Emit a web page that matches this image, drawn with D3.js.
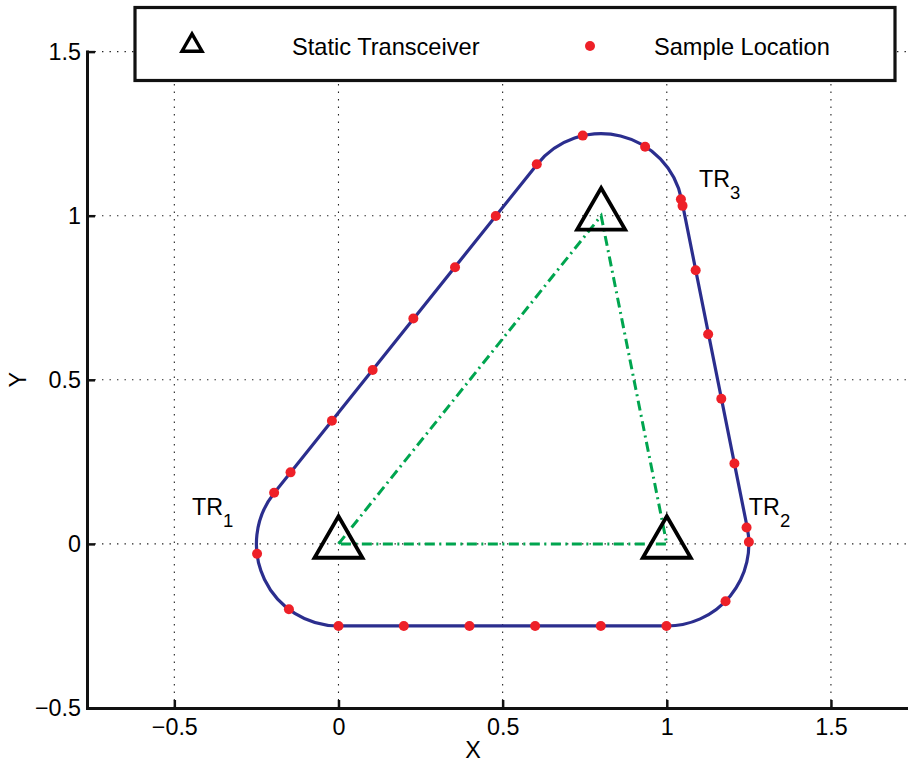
<!DOCTYPE html>
<html><head><meta charset="utf-8">
<script src="https://cdn.jsdelivr.net/npm/d3@7"></script>
<style>
body{margin:0;background:#fff}
svg{display:block}
text{font-family:"Liberation Sans",Arial,Helvetica,sans-serif;fill:#000}
</style>
</head><body>
<svg id="chart" width="908" height="763"></svg>
<script>
// ---- data ----
const transceiverX = [0, 1, 0.8];
const transceiverY = [0, 0, 1];
const offsetRadius = 0.25;
const sampleX = [-0.248, -0.151, 0.000, 0.199, 0.399, 0.599, 0.799, 0.999, 1.179, 1.250, 1.243,
                 1.206, 1.166, 1.126, 1.088, 1.048, 1.043, 0.934, 0.744, 0.604, 0.479, 0.355,
                 0.228, 0.104, -0.020, -0.146, -0.196];
const sampleY = [-0.030, -0.199, -0.250, -0.250, -0.250, -0.250, -0.250, -0.250, -0.175, 0.006, 0.050,
                 0.245, 0.442, 0.639, 0.834, 1.030, 1.050, 1.210, 1.244, 1.157, 0.999, 0.843,
                 0.687, 0.530, 0.375, 0.218, 0.156];
const xTicks = [-0.5, 0, 0.5, 1, 1.5];
const yTicks = [-0.5, 0, 0.5, 1, 1.5];
const labelBase = ["TR", "TR", "TR"];
const labelSub = ["1", "2", "3"];
const labelX = [-0.446, 1.250, 1.098];
const labelY = [0.088, 0.088, 1.087];
const legendLabels = ["Static Transceiver", "Sample Location"];

// ---- setup ----
const svg = d3.select("#chart");
const x = d3.scaleLinear().domain([-0.766, 1.7335]).range([87, 907.6]);
const y = d3.scaleLinear().domain([-0.5, 1.5]).range([708, 51.6]);
const fmt = d => d < 0 ? "\u2212" + Math.abs(d) : String(d);

// grid
const grid = svg.append("g").attr("stroke", "#222").attr("stroke-width", 1.1)
  .attr("stroke-dasharray", "1.4,6.1").attr("fill", "none");
grid.selectAll(".gx").data(xTicks).join("line")
  .attr("x1", d => x(d)).attr("x2", d => x(d))
  .attr("y1", y(-0.5)).attr("y2", y(1.5));
grid.selectAll(".gy").data(yTicks).join("line")
  .attr("y1", d => y(d)).attr("y2", d => y(d))
  .attr("x1", x.range()[0]).attr("x2", x.range()[1]);

// green triangle (dash-dot)
const V = transceiverX.map((d, i) => [d, transceiverY[i]]);
svg.append("path")
  .attr("d", d3.line().x(d => x(d[0])).y(d => y(d[1]))([V[0], V[2], V[1], V[0]]))
  .attr("fill", "none").attr("stroke", "#00a54f").attr("stroke-width", 3)
  .attr("stroke-dasharray", "10,4.5,2,4.5");

// blue offset boundary
const n = V.length;
const normals = V.map((p, i) => {
  const q = V[(i + 1) % n];
  const dx = q[0] - p[0], dy = q[1] - p[1], L = Math.hypot(dx, dy);
  return [dy / L, -dx / L];
});
const rpx = x(offsetRadius) - x(0);
const p = d3.path();
for (let i = 0; i < n; i++) {
  const a = V[i], b = V[(i + 1) % n], nm = normals[i], nn = normals[(i + 1) % n];
  if (i === 0) p.moveTo(x(a[0] + offsetRadius * nm[0]), y(a[1] + offsetRadius * nm[1]));
  p.lineTo(x(b[0] + offsetRadius * nm[0]), y(b[1] + offsetRadius * nm[1]));
  const a0 = -Math.atan2(nm[1], nm[0]), a1 = -Math.atan2(nn[1], nn[0]);
  p.arc(x(b[0]), y(b[1]), rpx, a0, a1, true);
}
p.closePath();
svg.append("path").attr("d", p.toString())
  .attr("fill", "none").attr("stroke", "#2b2e8e").attr("stroke-width", 3.2);

// sample points
svg.append("g").selectAll("circle").data(sampleX).join("circle")
  .attr("cx", d => x(d)).attr("cy", (d, i) => y(sampleY[i]))
  .attr("r", 5).attr("fill", "#ee2028");

// transceiver triangles
const triBig = d3.symbol().type(d3.symbolTriangle).size(Math.sqrt(3) / 4 * 48 * 48);
svg.append("g").selectAll("path").data(V).join("path")
  .attr("d", triBig)
  .attr("transform", d => `translate(${x(d[0])},${y(d[1])})`)
  .attr("fill", "none").attr("stroke", "#000").attr("stroke-width", 3.8)
  .attr("stroke-linejoin", "miter");

// axes
const xAxis = svg.append("g").attr("transform", `translate(0,${y(-0.5)})`)
  .call(d3.axisBottom(x).tickValues(xTicks).tickFormat(fmt).tickSizeInner(-8).tickSizeOuter(0).tickPadding(10));
const yAxis = svg.append("g").attr("transform", `translate(${x.range()[0]},0)`)
  .call(d3.axisLeft(y).tickValues(yTicks).tickFormat(fmt).tickSizeInner(-8).tickSizeOuter(0).tickPadding(6));
[xAxis, yAxis].forEach(g => {
  g.select(".domain").attr("stroke", "#111").attr("stroke-width", 3).attr("stroke-linecap", "square");
  g.selectAll(".tick line").attr("stroke", "#111").attr("stroke-width", 2.5);
  g.selectAll(".tick text").attr("font-size", 23.3).attr("font-family", "Liberation Sans, Arial, sans-serif").attr("fill", "#000");
});

// axis labels
svg.append("text").attr("x", x(0.41)).attr("y", 758).attr("text-anchor", "middle")
  .attr("font-size", 23.3).text("X");
svg.append("text").attr("transform", `translate(26,${y(0.5)}) rotate(-90)`)
  .attr("text-anchor", "middle").attr("font-size", 23.3).text("Y");

// TR labels
labelBase.forEach((b, i) => {
  const t = svg.append("text").attr("x", x(labelX[i])).attr("y", y(labelY[i])).attr("font-size", 23.3);
  t.append("tspan").text(b);
  t.append("tspan").attr("dy", 12).attr("font-size", 18.5).text(labelSub[i]);
});

// legend
const lg = svg.append("g");
lg.append("rect").attr("x", 135).attr("y", 7.5).attr("width", 760).attr("height", 73)
  .attr("fill", "#fff").attr("stroke", "#111").attr("stroke-width", 3.2);
lg.append("path").attr("d", d3.symbol().type(d3.symbolTriangle).size(Math.sqrt(3) / 4 * 20 * 20))
  .attr("transform", "translate(192,45.5)")
  .attr("fill", "none").attr("stroke", "#000").attr("stroke-width", 3.4);
lg.append("text").attr("x", 292).attr("y", 54.5).attr("font-size", 23.6).text(legendLabels[0]);
lg.append("circle").attr("cx", 590).attr("cy", 46).attr("r", 5).attr("fill", "#ee2028");
lg.append("text").attr("x", 654).attr("y", 54.5).attr("font-size", 23.6).text(legendLabels[1]);
</script>
</body></html>
